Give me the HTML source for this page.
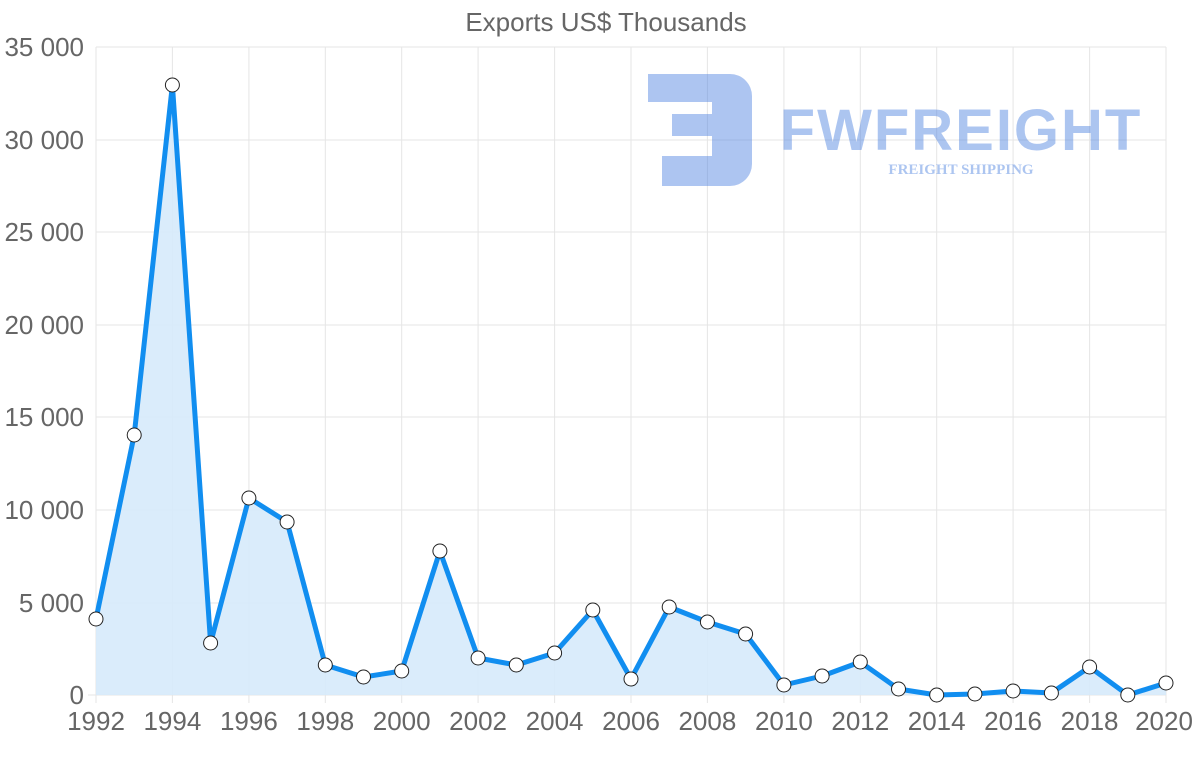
<!DOCTYPE html>
<html><head><style>body{margin:0;background:#fff}svg{display:block;font-family:"Liberation Sans",sans-serif}</style></head><body>
<svg width="1200" height="763" viewBox="0 0 1200 763">
<text x="606" y="31" text-anchor="middle" font-size="26" fill="#666">Exports US$ Thousands</text>
<g stroke="#e5e5e5" stroke-width="1">
<line x1="96" y1="47" x2="1166" y2="47"/><line x1="96" y1="140" x2="1166" y2="140"/><line x1="96" y1="232" x2="1166" y2="232"/><line x1="96" y1="325" x2="1166" y2="325"/><line x1="96" y1="417" x2="1166" y2="417"/><line x1="96" y1="510" x2="1166" y2="510"/><line x1="96" y1="603" x2="1166" y2="603"/><line x1="88" y1="695" x2="1166" y2="695"/>
<line x1="96" y1="47" x2="96" y2="703"/><line x1="172.4" y1="47" x2="172.4" y2="703"/><line x1="248.9" y1="47" x2="248.9" y2="703"/><line x1="325.3" y1="47" x2="325.3" y2="703"/><line x1="401.7" y1="47" x2="401.7" y2="703"/><line x1="478.1" y1="47" x2="478.1" y2="703"/><line x1="554.6" y1="47" x2="554.6" y2="703"/><line x1="631" y1="47" x2="631" y2="703"/><line x1="707.4" y1="47" x2="707.4" y2="703"/><line x1="783.9" y1="47" x2="783.9" y2="703"/><line x1="860.3" y1="47" x2="860.3" y2="703"/><line x1="936.7" y1="47" x2="936.7" y2="703"/><line x1="1013.1" y1="47" x2="1013.1" y2="703"/><line x1="1089.6" y1="47" x2="1089.6" y2="703"/><line x1="1166" y1="47" x2="1166" y2="703"/>
</g>
<g font-size="26" fill="#666" text-anchor="end">
<text x="84" y="56">35 000</text><text x="84" y="149">30 000</text><text x="84" y="241">25 000</text><text x="84" y="334">20 000</text><text x="84" y="426">15 000</text><text x="84" y="519">10 000</text><text x="84" y="612">5 000</text><text x="84" y="704">0</text>
</g>
<g font-size="26" fill="#666" text-anchor="middle">
<text x="96" y="730">1992</text><text x="172.4" y="730">1994</text><text x="248.9" y="730">1996</text><text x="325.3" y="730">1998</text><text x="401.7" y="730">2000</text><text x="478.1" y="730">2002</text><text x="554.6" y="730">2004</text><text x="631" y="730">2006</text><text x="707.4" y="730">2008</text><text x="783.9" y="730">2010</text><text x="860.3" y="730">2012</text><text x="936.7" y="730">2014</text><text x="1013.1" y="730">2016</text><text x="1089.6" y="730">2018</text><text x="1164" y="730">2020</text>
</g>
<g opacity="0.45" fill="#4a7fe0">
<path d="M648 74h82a22 22 0 0 1 22 22v68a22 22 0 0 1-22 22h-68v-30h50v-20h-40v-22h40v-12h-64z"/>
<text x="961" y="150" font-size="58" font-weight="bold" text-anchor="middle" letter-spacing="2">FWFREIGHT</text>
<text x="961" y="174" font-size="15" font-weight="bold" font-family="Liberation Serif,serif" text-anchor="middle">FREIGHT SHIPPING</text>
</g>
<path d="M96 695L96 619 134.2 435 172.4 85 210.6 643 248.9 498 287.1 522 325.3 665 363.5 677 401.7 671 439.9 551 478.1 658 516.3 665 554.6 653 592.8 610 631 679 669.2 607 707.4 622 745.6 634 783.9 685 822.1 676 860.3 662 898.5 689 936.7 695 974.9 694 1013.1 691 1051.4 693 1089.6 667 1127.8 695 1166 683 1166 695Z" fill="#d6eafb" opacity="0.9"/>
<polyline fill="none" stroke="#118ef0" stroke-width="5" stroke-linejoin="round" points="96,619 134.2,435 172.4,85 210.6,643 248.9,498 287.1,522 325.3,665 363.5,677 401.7,671 439.9,551 478.1,658 516.3,665 554.6,653 592.8,610 631,679 669.2,607 707.4,622 745.6,634 783.9,685 822.1,676 860.3,662 898.5,689 936.7,695 974.9,694 1013.1,691 1051.4,693 1089.6,667 1127.8,695 1166,683"/>
<g fill="#fff" stroke="#222" stroke-width="1">
<circle cx="96" cy="619" r="7"/><circle cx="134.2" cy="435" r="7"/><circle cx="172.4" cy="85" r="7"/><circle cx="210.6" cy="643" r="7"/><circle cx="248.9" cy="498" r="7"/><circle cx="287.1" cy="522" r="7"/><circle cx="325.3" cy="665" r="7"/><circle cx="363.5" cy="677" r="7"/><circle cx="401.7" cy="671" r="7"/><circle cx="439.9" cy="551" r="7"/><circle cx="478.1" cy="658" r="7"/><circle cx="516.3" cy="665" r="7"/><circle cx="554.6" cy="653" r="7"/><circle cx="592.8" cy="610" r="7"/><circle cx="631" cy="679" r="7"/><circle cx="669.2" cy="607" r="7"/><circle cx="707.4" cy="622" r="7"/><circle cx="745.6" cy="634" r="7"/><circle cx="783.9" cy="685" r="7"/><circle cx="822.1" cy="676" r="7"/><circle cx="860.3" cy="662" r="7"/><circle cx="898.5" cy="689" r="7"/><circle cx="936.7" cy="695" r="7"/><circle cx="974.9" cy="694" r="7"/><circle cx="1013.1" cy="691" r="7"/><circle cx="1051.4" cy="693" r="7"/><circle cx="1089.6" cy="667" r="7"/><circle cx="1127.8" cy="695" r="7"/><circle cx="1166" cy="683" r="7"/>
</g>
</svg>
</body></html>
